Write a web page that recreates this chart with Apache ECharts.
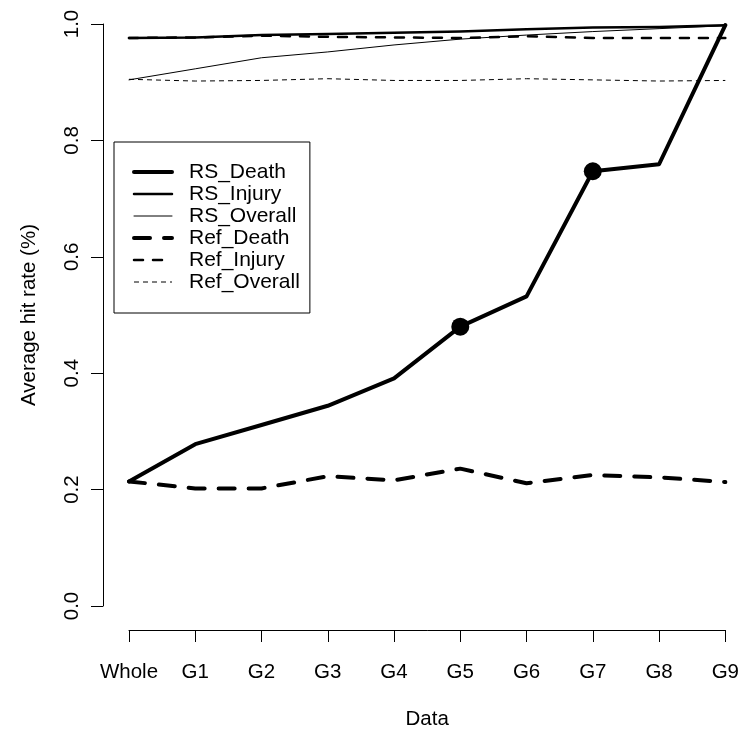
<!DOCTYPE html>
<html>
<head>
<meta charset="utf-8">
<script src="https://cdn.jsdelivr.net/npm/echarts@6/dist/echarts.min.js"></script>
<style>
  html, body { margin: 0; padding: 0; background: #fff; }
  #main { width: 742px; height: 735px; }
</style>
</head>
<body>
<div id="main"></div>
<script>
// categories on the x axis
var groups = ['Whole', 'G1', 'G2', 'G3', 'G4', 'G5', 'G6', 'G7', 'G8', 'G9'];
var yTicks = [0, 0.2, 0.4, 0.6, 0.8, 1.0];

// hit rates
var rsDeath    = [0.214, 0.278, 0.311, 0.344, 0.391, 0.480, 0.532, 0.747, 0.759, 0.998];
var rsInjury   = [0.976, 0.977, 0.981, 0.983, 0.985, 0.987, 0.991, 0.994, 0.995, 0.998];
var rsOverall  = [0.904, 0.923, 0.942, 0.952, 0.964, 0.974, 0.981, 0.987, 0.992, 0.997];
var refDeath   = [0.214, 0.202, 0.202, 0.223, 0.216, 0.236, 0.211, 0.225, 0.221, 0.213];
var refInjury  = [0.976, 0.977, 0.980, 0.978, 0.977, 0.976, 0.979, 0.976, 0.976, 0.976];
var refOverall = [0.905, 0.902, 0.903, 0.906, 0.903, 0.903, 0.906, 0.904, 0.902, 0.903];

// the two big dots on RS_Death
var markedGroups = ['G5', 'G7'];

var chart = echarts.init(document.getElementById('main'));

function deathPoints() {
  return rsDeath.map(function (v, i) {
    if (markedGroups.indexOf(groups[i]) >= 0) {
      return { value: v, symbol: 'circle', symbolSize: 18 };
    }
    return v;
  });
}

function lineSeries(name, data, width, type, cap) {
  return {
    name: name,
    type: 'line',
    data: data,
    symbol: 'none',
    lineStyle: { color: '#000', width: width, type: type, cap: cap || 'round', join: 'round' },
    itemStyle: { color: '#000' },
    emphasis: { disabled: true }
  };
}

var axisFont = { fontFamily: 'Liberation Sans', fontSize: 20.5, color: '#000' };

var option = {
  backgroundColor: '#ffffff',
  animation: false,
  grid: { left: 129, right: 15, top: 24, bottom: 125 },
  legend: {
    orient: 'vertical',
    left: 114,
    top: 142,
    padding: [19, 10, 20, 18],
    borderColor: '#000',
    borderWidth: 1,
    borderRadius: 0,
    itemWidth: 38,
    itemHeight: 14,
    itemGap: 0,
    itemStyle: { opacity: 0 },
    lineStyle: { width: 'inherit' },
    textStyle: { fontFamily: 'Liberation Sans', fontSize: 21, lineHeight: 22, color: '#000', padding: [0, 0, 0, 12] },
    data: ['RS_Death', 'RS_Injury', 'RS_Overall', 'Ref_Death', 'Ref_Injury', 'Ref_Overall']
  },
  xAxis: {
    type: 'category',
    data: groups,
    boundaryGap: false,
    offset: 24,
    name: 'Data',
    nameLocation: 'middle',
    nameGap: 79,
    nameTextStyle: axisFont,
    axisLine: { onZero: false, lineStyle: { color: '#000', width: 1 } },
    axisTick: { alignWithLabel: true, length: 12, lineStyle: { color: '#000' } },
    axisLabel: Object.assign({ margin: 32, interval: 0 }, axisFont),
    splitLine: { show: false }
  },
  yAxis: {
    type: 'value',
    min: yTicks[0],
    max: yTicks[yTicks.length - 1],
    interval: 0.2,
    offset: 26,
    name: 'Average hit rate (%)',
    nameLocation: 'middle',
    nameGap: 63,
    nameTextStyle: axisFont,
    axisLine: { show: true, onZero: false, lineStyle: { color: '#000', width: 1 } },
    axisTick: { show: true, length: 12, lineStyle: { color: '#000' } },
    axisLabel: Object.assign({
      rotate: 90,
      margin: 20,
      formatter: function (v) { return v.toFixed(1); }
    }, axisFont),
    splitLine: { show: false }
  },
  series: [
    lineSeries('RS_Death', deathPoints(), 4, 'solid'),
    lineSeries('RS_Injury', rsInjury, 2.5, 'solid'),
    lineSeries('RS_Overall', rsOverall, 1, 'solid'),
    lineSeries('Ref_Death', refDeath, 4, [16, 14]),
    lineSeries('Ref_Injury', refInjury, 2.5, [9, 10]),
    lineSeries('Ref_Overall', refOverall, 1, [5, 4], 'butt')
  ]
};

chart.setOption(option);
</script>
</body>
</html>
